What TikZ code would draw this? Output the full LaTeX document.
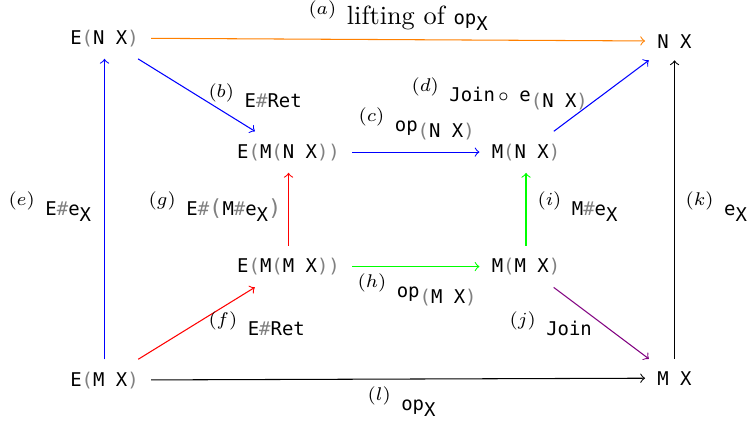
\documentclass[tikz,border=0pt]{standalone}
\usepackage{fontspec}
\usepackage{xcolor}
\newfontfamily\agdafont{DejaVu Sans Mono}
\definecolor{joinpurple}{RGB}{128,0,128}
\newcommand\mono{\agdafont\fontsize{7.2}{8.6}\selectfont}
\newcommand\gLP{{\color{gray}(}}
\newcommand\gRP{{\color{gray})}}
\newcommand\gBLP{{\color{gray}\fontsize{8.4}{8.4}\selectfont(}}
\newcommand\gBRP{{\color{gray}\fontsize{8.4}{8.4}\selectfont)}}
\newcommand\gHash{{\color{gray}\#}}
\newcommand\lowr[1]{\raisebox{-2.3pt}{#1}}
\newcommand\lab[2]{$^{(#1)}$\hspace{3.5pt}{\mono #2}}
\tikzset{
  obj/.style={font=\mono, inner sep=4.5pt},
  lbl/.style={anchor=base west, inner sep=0pt},
  arr/.style={->}
}
\begin{document}
\begin{tikzpicture}[x=0.38023pt, y=-0.38023pt]
\useasboundingbox (0,0) rectangle (748,424);
% objects
\node[obj, anchor=base] (ENX)  at (104.5,44)  {E\gLP N X\gRP};
\node[obj, anchor=base] (NX)   at (674.5,48)  {N X};
\node[obj, anchor=base] (EMNX) at (288.5,158) {E\gLP M\gLP N X\gRP\gRP};
\node[obj, anchor=base] (MNX)  at (526,158) {M\gLP N X\gRP};
\node[obj, anchor=base] (EMMX) at (288.5,272.5) {E\gLP M\gLP M X\gRP\gRP};
\node[obj, anchor=base] (MMX)  at (526,272.5) {M\gLP M X\gRP};
\node[obj, anchor=base] (EMX)  at (104.5,386) {E\gLP M X\gRP};
\node[obj, anchor=base] (MX)   at (674.5,385) {M X};
% arrows
\draw[arr, orange] (ENX) -- (NX);
\draw[arr, blue] (ENX) -- (EMNX);
\draw[arr, blue] (EMNX) -- (MNX);
\draw[arr, blue] (MNX) -- (NX);
\draw[arr, blue] (EMX) -- (ENX);
\draw[arr, red] (EMX) -- (EMMX);
\draw[arr, red] (EMMX) -- (EMNX);
\draw[arr, green] (EMMX) -- (MMX);
\draw[arr, green] (MMX) -- (MNX);
\draw[arr, joinpurple] (MMX) -- (MX);
\draw[arr, black] (MX) -- (NX);
\draw[arr, black] (EMX) -- (MX);
% labels
\node[lbl] (la) at (308,24) {$^{(a)}$\hspace{3.5pt}lifting of {\mono op\lowr{X}}};
\node[lbl] (lb) at (208,107) {\lab{b}{E\gHash Ret}};
\node[lbl] (lc) at (358,131) {\lab{c}{op\lowr{\gLP N X\gRP}}};
\node[lbl] (ld) at (411,101) {\lab{d}{Join\hspace{1.2pt}$\circ$\hspace{4pt}e\lowr{\gLP N X\gRP}}};
\node[lbl] (le) at (8,215) {\lab{e}{E\gHash e\lowr{X}}};
\node[lbl] (lg) at (148,215) {\lab{g}{E\gHash\gBLP M\gHash e\lowr{X}\gBRP}};
\node[lbl] (li) at (537,215) {\lab{i}{M\gHash e\lowr{X}}};
\node[lbl] (lk) at (685,215) {\lab{k}{e\lowr{X}}};
\node[lbl] (lf) at (208,335) {\lab{f}{E\gHash Ret}};
\node[lbl] (lh) at (357,297) {\lab{h}{op\lowr{\gLP M X\gRP}}};
\node[lbl] (lj) at (509,335) {\lab{j}{Join}};
\node[lbl] (ll) at (367,410) {\lab{l}{op\lowr{X}}};
\end{tikzpicture}
\end{document}
